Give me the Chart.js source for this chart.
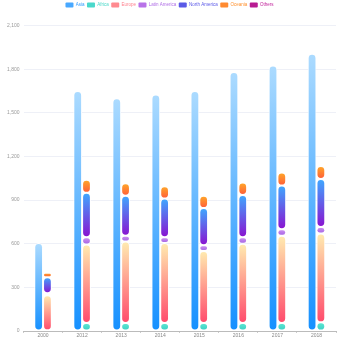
<!DOCTYPE html>
<html><head><meta charset="utf-8">
<script src="https://cdn.jsdelivr.net/npm/chart.js@4.4.1/dist/chart.umd.min.js"></script>
<style>html,body{margin:0;padding:0;background:#fff}#wrap{width:350px;height:350px}</style>
</head><body><div id="wrap"><canvas id="c"></canvas></div>
<script>
const categories = ['2000','2012','2013','2014','2015','2016','2017','2018'];
const seriesNames = ['Asia','Africa','Europe','Latin America','North America','Oceania','Others'];
const asia         = [605, 1650, 1600, 1625, 1650, 1780, 1825, 1905];
const africa       = [5, 55, 55, 55, 55, 55, 55, 60];
const europe       = [240, 540, 560, 550, 495, 545, 600, 610];
const latinAmerica = [15, 50, 40, 40, 40, 45, 45, 45];
const northAmerica = [110, 305, 275, 265, 255, 290, 300, 330];
const oceania      = [30, 90, 85, 85, 85, 85, 90, 90];
const others       = [0, 0, 0, 0, 0, 0, 0, 0];
const yTicks = [0, 300, 600, 900, 1200, 1500, 1800, 2100];

const seriesValues = [asia, africa, europe, latinAmerica, northAmerica, oceania, others];
const stackOf = ['a','b','b','b','b','b','b'];
const gradTop = ['#acdbff','#5fe8d2','#ffecb0','#cf95f3','#3ea9ff','#ffaa28','#d8309f'];
const gradBot = ['#1590ff','#3acdc4','#ff4a6c','#a462e2','#8a12d0','#ff5c3a','#a0107c'];
const legendColor = ['#2f9bff','#4ad8c8','#ff7f8c','#b06ee6','#5a58e8','#ff9230','#c0209a'];
const legendBox = ['#48a8ff','#4ad8cb','#ff8a90','#b872e8','#5a5ae6','#ff8a30','#b81c92'];

// floating [base, top] segments built from the series arrays (stacking per group)
function segments(k) {
  return categories.map((_, i) => {
    let base = 0;
    for (let j = 0; j < k; j++) if (stackOf[j] === stackOf[k]) base += seriesValues[j][i];
    return [base, base + seriesValues[k][i]];
  });
}

function makeGrad(dsIdx) {
  return function(ctx) {
    const chart = ctx.chart;
    if (ctx.type !== 'data' || !chart.chartArea || !Array.isArray(ctx.raw)) return gradBot[dsIdx];
    const y = chart.scales.y;
    const y0 = y.getPixelForValue(ctx.raw[1]), y1 = y.getPixelForValue(ctx.raw[0]);
    if (!isFinite(y0) || !isFinite(y1) || y1 - y0 < 0.5) return gradBot[dsIdx];
    const g = chart.ctx.createLinearGradient(0, y0, 0, y1);
    g.addColorStop(0, gradTop[dsIdx]);
    g.addColorStop(1, gradBot[dsIdx]);
    return g;
  };
}

const datasets = seriesNames.map((name, k) => ({
  label: name,
  data: segments(k),
  stack: stackOf[k],
  backgroundColor: makeGrad(k),
  borderColor: '#ffffff',
  borderWidth: 1,
  borderSkipped: false,
  borderRadius: 20,
  categoryPercentage: 0.45,
  barPercentage: 1.0
}));

const legendSpacer = {
  id: 'legendSpacer',
  beforeInit(chart) {
    const lg = chart.legend;
    if (!lg) return;
    const orig = lg.fit;
    lg.fit = function() { orig.call(this); this.height += 8; };
  }
};

new Chart(document.getElementById('c'), {
  type: 'bar',
  data: { labels: categories, datasets },
  plugins: [legendSpacer],
  options: {
    responsive: true,
    maintainAspectRatio: false,
    animation: false,
    layout: { padding: { left: 3, right: 14, top: 0, bottom: 11 } },
    plugins: {
      tooltip: { enabled: false },
      legend: {
        position: 'top',
        labels: {
          boxWidth: 8,
          boxHeight: 5,
          padding: 2.5,
          font: { size: 4.5, family: 'Liberation Sans, Arial, sans-serif' },
          generateLabels: (chart) => seriesNames.map((n, k) => ({
            text: n,
            fillStyle: legendBox[k],
            strokeStyle: legendBox[k],
            lineWidth: 0,
            fontColor: legendColor[k],
            borderRadius: 1,
            hidden: false,
            datasetIndex: k
          })),
          useBorderRadius: true,
          borderRadius: 1
        }
      }
    },
    scales: {
      x: {
        stacked: true,
        offset: true,
        grid: { display: true, drawOnChartArea: false, drawTicks: true, tickLength: 2, color: '#cccccc' },
        border: { display: true, color: '#bbbbbb' },
        ticks: { color: '#888', font: { size: 5, family: 'Liberation Sans, Arial, sans-serif' }, padding: 0 }
      },
      y: {
        stacked: false,
        min: 0,
        max: 2100,
        afterBuildTicks: (axis) => { axis.ticks = yTicks.map(v => ({ value: v })); },
        grid: { color: '#eef0f7', drawTicks: false },
        border: { display: false },
        ticks: { color: '#999', font: { size: 5, family: 'Liberation Sans, Arial, sans-serif' }, padding: 4 }
      }
    }
  }
});
</script>
</body></html>
